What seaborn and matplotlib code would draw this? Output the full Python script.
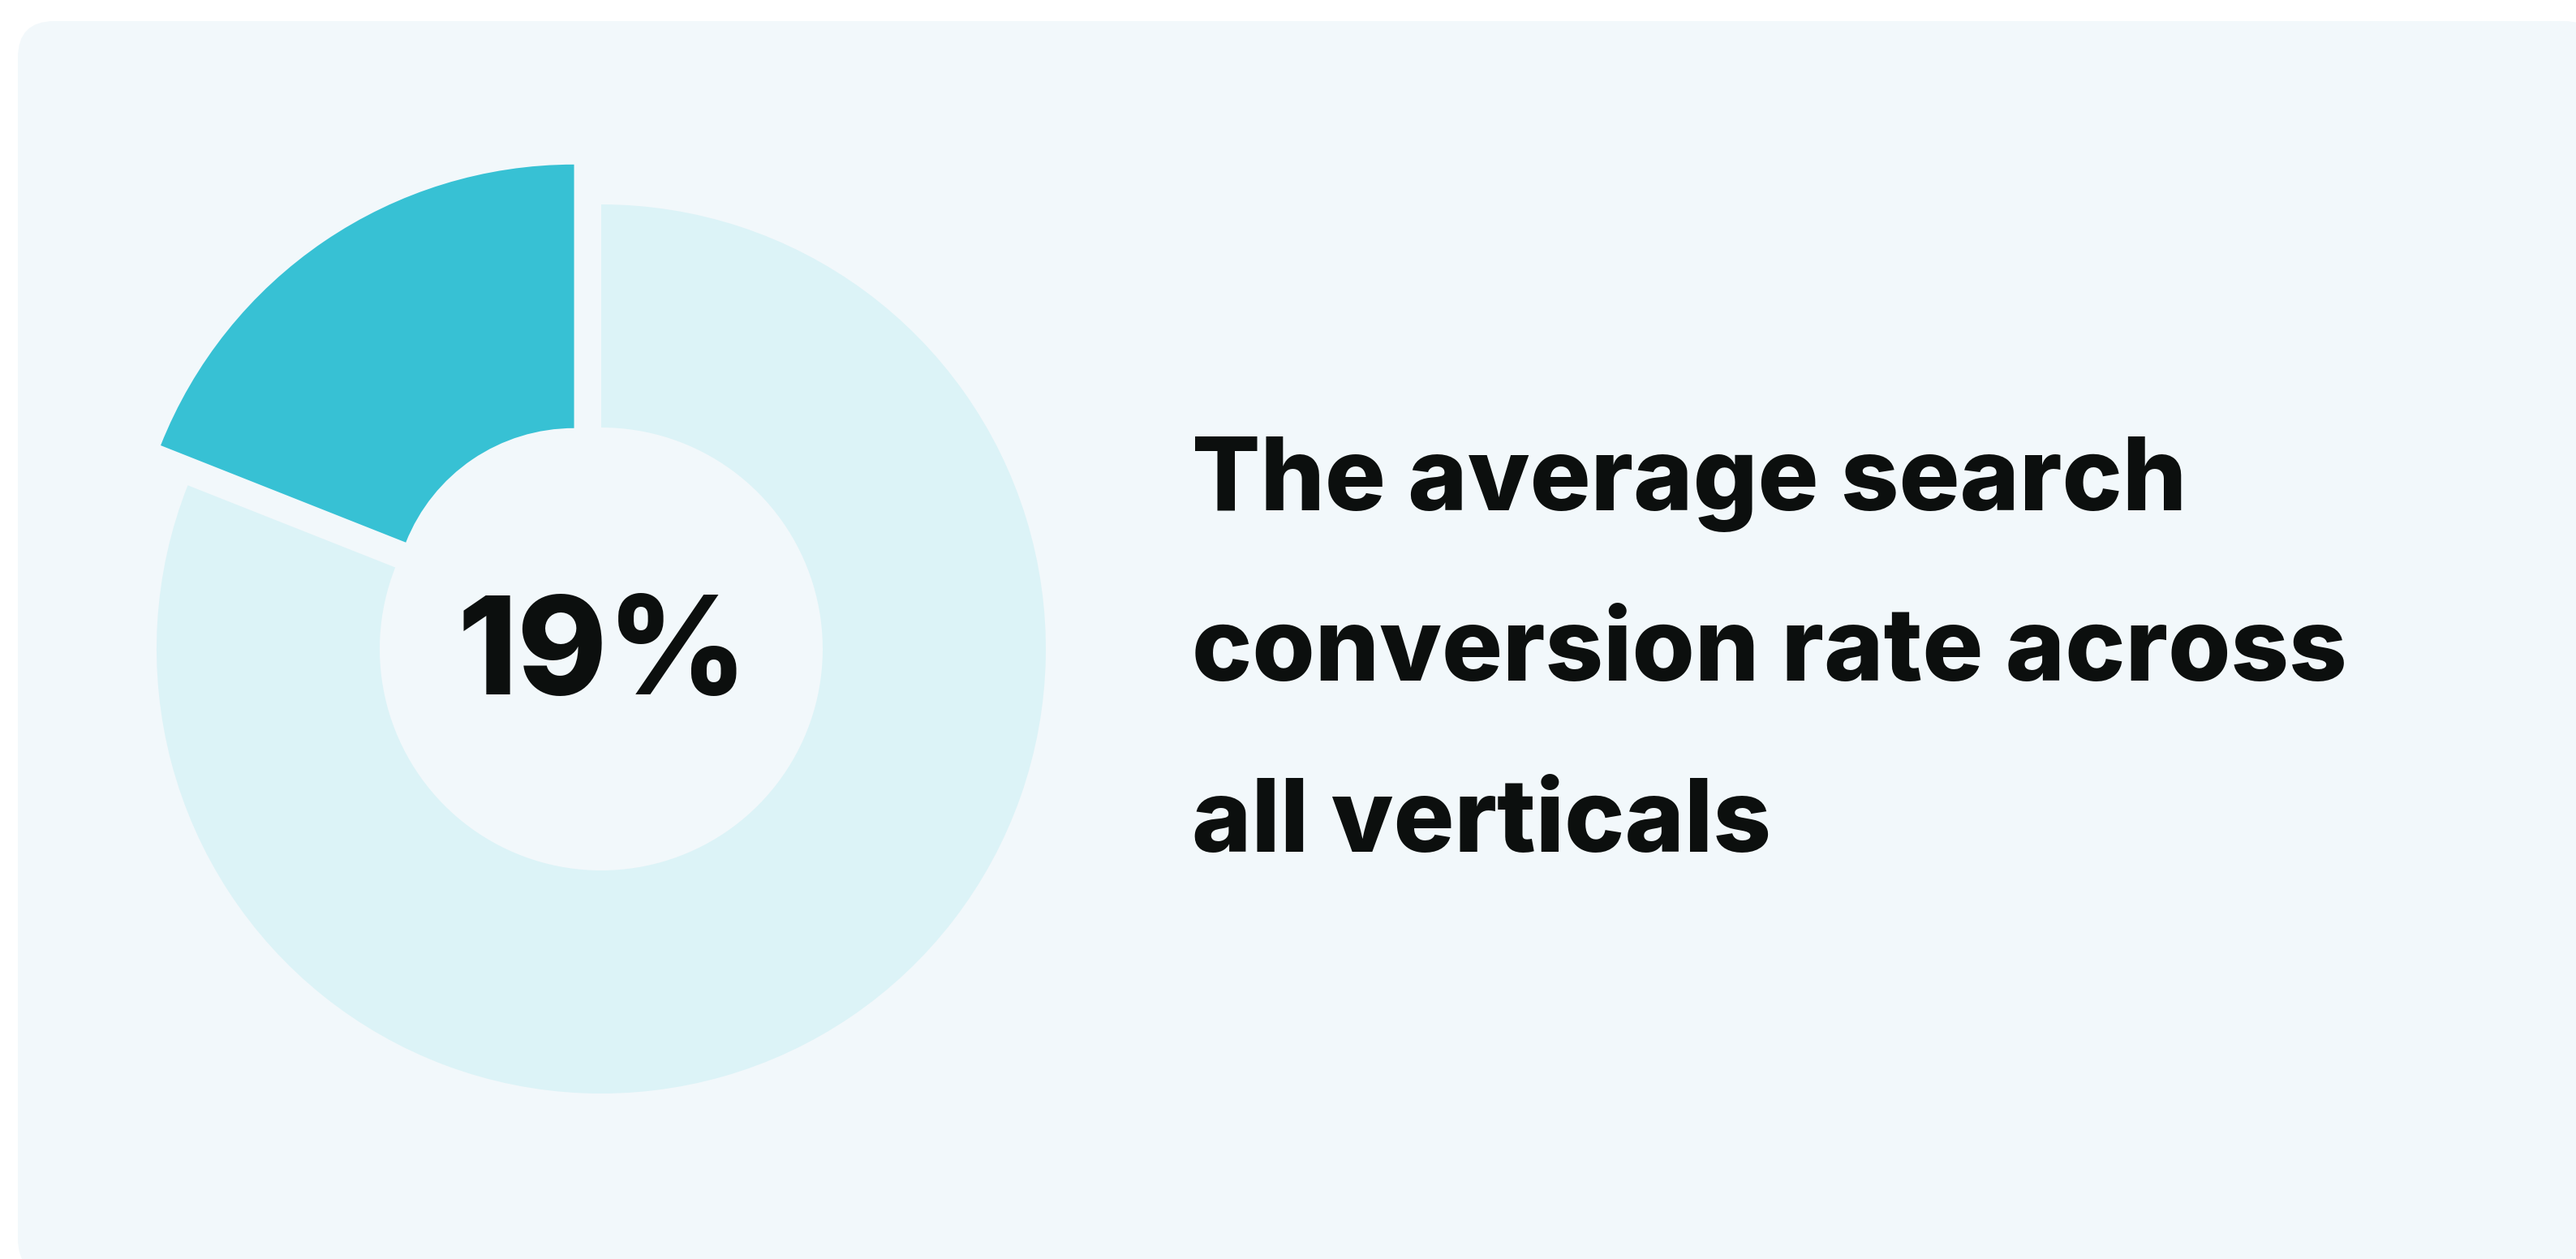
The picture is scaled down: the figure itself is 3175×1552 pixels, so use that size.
import matplotlib
matplotlib.use("Agg")
import matplotlib.pyplot as plt
from matplotlib.patches import FancyBboxPatch
import seaborn as sns

# Data
share_label = "19%"
share_values = [19, 81]          # search conversion share vs. remainder
headline_lines = ["The average search", "conversion rate across", "all verticals"]

# Style
sns.set_theme(style="white")
plt.rcParams["font.family"] = ["Inter", "DejaVu Sans"]

TEAL = "#37C1D4"
LIGHT = "#DCF3F7"
PANEL = "#F2F8FB"
INK = "#0C0F0E"

W, H = 3175, 1552
fig = plt.figure(figsize=(W / 100, H / 100), dpi=100)
fig.patch.set_facecolor("white")
ax = fig.add_axes([0, 0, 1, 1])

# Rounded background card
card = FancyBboxPatch((22, -20), W + 30 - 22, H + 20 - 26,
                      boxstyle="round,pad=0,rounding_size=45",
                      facecolor=PANEL, edgecolor="none", zorder=0)
ax.add_patch(card)

center = (741, H - 800)
R = 548

# Remainder ring (share segment left empty)
ax.pie(share_values, colors=["none", LIGHT], startangle=90, counterclock=True,
       radius=R, center=center, wedgeprops=dict(width=R - 273, linewidth=0),
       frame=True)

# Highlighted share, pulled out from the ring (explode is in data units here)
ax.pie(share_values, colors=[TEAL, "none"], startangle=90, counterclock=True,
       radius=R, center=center, explode=[59.5, 0],
       wedgeprops=dict(width=R - 223, linewidth=0), frame=True)

ax.text(743, H - 856, share_label, ha="center", va="baseline",
        fontsize=121, fontweight=800, color=INK)

baselines = [629, 839.5, 1050]
for line, yb in zip(headline_lines, baselines):
    ax.text(1469, H - yb, line, ha="left", va="baseline",
            fontsize=90, fontweight=800, color=INK)

ax.set_xlim(0, W)
ax.set_ylim(0, H)
ax.set_aspect("equal")
ax.axis("off")

fig.savefig("out.png", dpi=100, facecolor="white")
